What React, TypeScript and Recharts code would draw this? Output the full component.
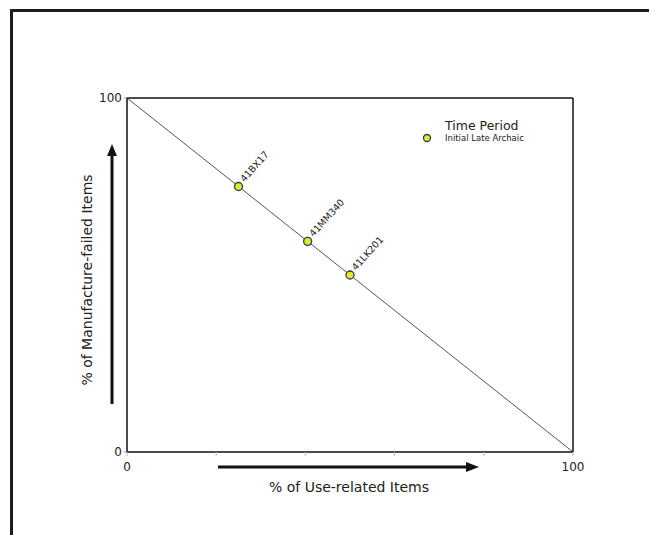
import React from 'react';
import {
  ScatterChart,
  Scatter,
  XAxis,
  YAxis,
  ReferenceLine,
  LabelList,
} from 'recharts';

const sites = ['41BX17', '41MM340', '41LK201'];
const useRelated = [25, 40.5, 50];
const manufactureFailed = [75, 59.5, 50];
const xTicks = [0, 20, 40, 60, 80, 100];
const yTicks = [0, 100];
const seriesName = 'Initial Late Archaic';
const legendTitle = 'Time Period';
const xTitle = '% of Use-related Items';
const yTitle = '% of Manufacture-failed Items';

const data = sites.map((s, i) => ({ site: s, x: useRelated[i], y: manufactureFailed[i] }));

const FONT = '"DejaVu Sans", sans-serif';
const W = 649;
const H = 527;

const Dot = (props: any) => {
  const { cx, cy } = props;
  return <circle cx={cx} cy={cy} r={4} fill="#e2ec1c" stroke="#2e3a6e" strokeWidth={1.3} />;
};

const SiteLabel = (props: any) => {
  const { x, y, width, height, value } = props;
  const cx = x + (width || 0) / 2;
  const cy = y + (height || 0) / 2;
  const px = cx + 6;
  const py = cy - 4;
  return (
    <text
      x={px}
      y={py}
      fontSize={9.5}
      fontFamily={FONT}
      fill="#222"
      transform={`rotate(-48 ${px} ${py})`}
    >
      {value}
    </text>
  );
};

export default function App() {
  return (
    <div style={{ position: 'relative', width: W, height: H, background: '#fff' }}>
      <div
        style={{
          position: 'absolute',
          left: 2,
          top: 1,
          width: W,
          height: H,
          borderTop: '3px solid #1c1c1c',
          borderLeft: '3px solid #1c1c1c',
          pointerEvents: 'none',
        }}
      />
      <ScatterChart
        width={W}
        height={H}
        margin={{ top: 90, right: 84, bottom: 53, left: 59 }}
        style={{ fontFamily: FONT }}
      >
        <XAxis
          type="number"
          dataKey="x"
          domain={[0, 100]}
          ticks={xTicks}
          tickFormatter={(v: number) => (v === 0 || v === 100 ? String(v) : '')}
          stroke="#111"
          strokeWidth={1.5}
          tickLine={{ stroke: '#bbb', strokeWidth: 1 }}
          tickSize={4}
          tickMargin={6}
          tick={{ fontSize: 12, fill: '#222', fontFamily: FONT }}
          height={30}
          allowDataOverflow
        />
        <YAxis
          type="number"
          dataKey="y"
          domain={[0, 100]}
          ticks={yTicks}
          stroke="#111"
          strokeWidth={1.5}
          tickLine={{ stroke: '#999', strokeWidth: 1 }}
          tickSize={3}
          tick={{ fontSize: 12, fill: '#222', fontFamily: FONT }}
          width={60}
          allowDataOverflow
        />
        <ReferenceLine y={100} stroke="#111" strokeWidth={1.5} />
        <ReferenceLine x={100} stroke="#111" strokeWidth={1.5} />
        <ReferenceLine
          segment={[
            { x: 0, y: 100 },
            { x: 100, y: 0 },
          ]}
          stroke="#555"
          strokeWidth={1}
        />
        <Scatter name={seriesName} data={data} shape={<Dot />} isAnimationActive={false}>
          <LabelList dataKey="site" content={<SiteLabel />} />
        </Scatter>
      </ScatterChart>
      <svg
        width={W}
        height={H}
        style={{ position: 'absolute', left: 0, top: 0, pointerEvents: 'none' }}
      >
        <line x1={104} y1={396} x2={104} y2={145} stroke="#111" strokeWidth={3} />
        <path d="M99,148 L104,136 L109,148 z" fill="#111" />
        <line x1={210} y1={459} x2={460} y2={459} stroke="#111" strokeWidth={3} />
        <path d="M458,454 L471,459 L458,464 z" fill="#111" />
        <text
          x={80}
          y={272}
          fontSize={14}
          fontFamily={FONT}
          fill="#222"
          textAnchor="middle"
          dominantBaseline="middle"
          transform="rotate(-90 80 272)"
        >
          {yTitle}
        </text>
        <text
          x={341}
          y={480}
          fontSize={14}
          fontFamily={FONT}
          fill="#222"
          textAnchor="middle"
          dominantBaseline="middle"
        >
          {xTitle}
        </text>
        <text x={437} y={122} fontSize={12.5} fontFamily={FONT} fill="#222">
          {legendTitle}
        </text>
        <circle cx={419} cy={130} r={3.5} fill="#e2ec1c" stroke="#2e3a6e" strokeWidth={1.3} />
        <text x={437} y={133} fontSize={8.5} fontFamily={FONT} fill="#222">
          {seriesName}
        </text>
      </svg>
    </div>
  );
}
